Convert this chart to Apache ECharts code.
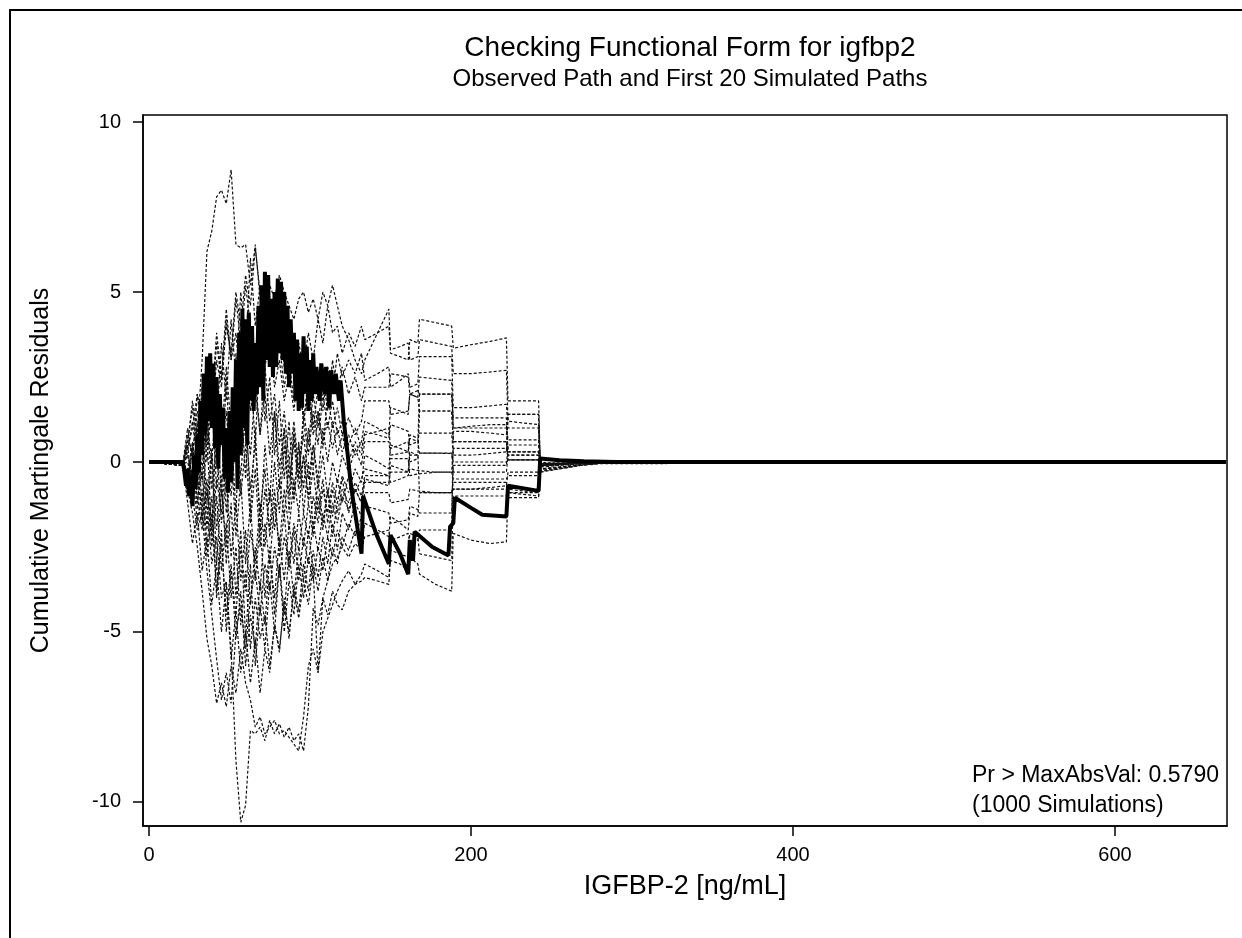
<!DOCTYPE html>
<html>
<head>
<meta charset="utf-8">
<title>Checking Functional Form for igfbp2</title>
<script src="https://cdn.jsdelivr.net/npm/echarts@6/dist/echarts.min.js"></script>
<style>
  html, body { margin: 0; padding: 0; background: #fff; }
  #chart { width: 1242px; height: 938px; }
</style>
</head>
<body>
<div id="chart"></div>
<script>
const FONT = '"Liberation Sans", Arial, sans-serif';

const xTicks = [0, 200, 400, 600];
const yTicks = [-10, -5, 0, 5, 10];

// shared covariate grid for the simulated paths (jumps at the same event values)
const simX = [0, 21, 24, 27, 30, 33, 36, 39, 42, 45, 48, 51, 54, 57, 60, 63, 66, 69, 72, 75, 78, 81, 84, 87, 90, 93, 96, 99, 102, 105, 108, 111, 114, 117, 120, 124, 128, 132,
  134, 142, 149, 150, 156, 161, 162, 167, 168, 178, 188, 189, 200, 212, 222, 223, 232, 242, 243, 255, 268, 280, 669];

const sim1 = [0, -0.05, 0.5, 1.8, 0.8, 3.0, 6.2, 6.8, 7.8, 8.0, 7.6, 8.6, 6.4, 6.3, 6.4, 5.2, 6.4, 4.8, 3.5, 4.2, 2.8, 3.5, 2.2, 3.0, 1.8, 2.5, 1.2, 2.0, 0.8, 1.5, 0.6, 1.2, 0.4, 1.0, 0.3, 0.8, 0.2, 0.6,
  1.2, 1.0, 0.8, 1.6, 1.5, 1.4, 2.0, 1.9, 2.5, 2.45, 2.4, 1.0, 1.05, 1.1, 1.1, 0.65, 0.65, 0.65, -0.1, -0.08, -0.05, -0.02, 0];
const sim2 = [0, -0.05, 0.2, -0.5, 1.0, 0.3, 2.0, 1.2, 3.0, 2.2, 4.0, 3.2, 5.0, 4.0, 5.5, 4.6, 6.3, 5.0, 4.5, 5.2, 4.8, 5.5, 5.0, 4.6, 4.2, 4.8, 5.0, 4.4, 4.8, 4.2, 5.0, 4.6, 5.2, 4.6, 4.0, 3.6, 3.0, 2.6,
  3.0, 3.8, 4.5, 3.2, 3.1, 3.0, 3.6, 3.5, 4.2, 4.1, 4.0, 3.35, 3.45, 3.55, 3.65, 1.8, 1.8, 1.8, 0.0, -0.05, -0.03, 0, 0];
const sim3 = [0, -0.1, -0.5, 0.5, -1.0, -2.0, -1.2, -3.0, -2.2, -4.0, -3.5, -5.5, -8.8, -10.6, -10.1, -7.9, -8.0, -7.8, -8.2, -7.6, -8.0, -7.7, -8.1, -7.8, -8.2, -8.0, -8.5, -7.2, -4.3, -4.8, -4.0, -4.5, -3.8, -4.2, -4.35, -3.8, -3.6, -3.5,
  -3.4, -3.5, -3.6, -2.6, -2.7, -2.8, -2.1, -2.2, -2.7, -2.8, -2.9, -1.0, -1.0, -1.0, -1.0, -0.9, -0.95, -1.0, -0.3, -0.2, -0.1, -0.05, 0];
const sim4 = [0, -0.1, -0.8, -1.5, -2.5, -3.8, -5.2, -6.0, -7.1, -6.5, -7.2, -6.0, -6.8, -5.5, -6.5, -7.0, -7.8, -7.5, -8.0, -7.8, -7.6, -8.0, -7.9, -8.1, -8.3, -8.5, -7.5, -6.0, -5.5, -6.2, -5.0, -4.6, -4.2, -3.8, -3.5, -3.2, -3.6, -3.3,
  -3.0, -3.2, -3.4, -2.9, -3.0, -3.2, -2.8, -3.0, -3.3, -3.6, -3.8, -2.1, -2.3, -2.4, -2.35, -0.8, -0.85, -0.9, -0.25, -0.18, -0.1, -0.03, 0];
const sim5 = [0, -0.05, -0.3, -1.0, -2.0, -1.5, -3.2, -4.5, -5.8, -7.0, -6.2, -7.1, -5.0, -4.2, -5.5, -4.0, -3.2, -4.5, -3.0, -3.8, -2.5, -3.4, -2.2, -3.0, -1.8, -2.6, -1.5, -2.2, -1.0, -1.8, -0.8, -1.5, -0.6, -1.2, -0.4, -0.9, -0.2, -0.6,
  0.2, 0.0, -0.2, 0.5, 0.4, 0.3, 0.8, 0.7, 0.85, 0.85, 0.85, 0.2, 0.2, 0.25, 0.3, 1.4, 1.4, 1.4, -0.15, -0.1, -0.05, -0.02, 0];
const sim6 = [0, -0.1, 0.8, 0.2, 1.5, 0.6, 2.4, 1.5, 3.5, 2.4, 4.2, 3.0, 4.8, 3.5, 5.2, 4.0, 3.2, 4.5, 2.8, 3.6, 2.2, 3.0, 1.8, 2.6, 1.5, 2.8, 1.2, 2.5, 1.0, 2.2, 1.5, 2.8, 2.0, 3.2, 2.5, 3.0, 2.6, 3.2,
  2.4, 2.6, 2.8, 2.2, 2.4, 2.6, 2.2, 2.3, 3.1, 3.1, 3.1, 1.6, 1.6, 1.65, 1.7, 1.0, 1.0, 1.0, -0.12, -0.08, -0.04, -0.01, 0];
const sim7 = [0, -0.05, -0.2, -1.2, 0.2, -1.8, -0.5, -2.5, -1.0, -3.2, -1.8, -4.0, -2.5, -4.8, -3.2, -5.5, -4.0, -5.2, -4.5, -6.0, -4.8, -5.5, -4.2, -5.0, -3.8, -4.6, -3.5, -4.2, -3.0, -3.8, -2.8, -3.5, -2.5, -3.0, -2.2, -2.6, -2.0, -2.4,
  -1.8, -2.0, -2.2, -1.6, -1.8, -2.0, -1.5, -1.6, -0.9, -0.9, -0.9, -0.8, -0.8, -0.75, -0.7, -0.3, -0.3, -0.3, -0.2, -0.15, -0.08, -0.03, 0];
const sim8 = [0, -0.1, 0.5, -0.8, 1.2, -1.5, 0.8, -2.2, 1.5, -1.0, 2.5, -0.5, 3.2, 0.5, 2.0, -1.5, 1.0, -2.0, 0.5, -1.2, 1.5, -0.8, 1.0, -1.5, 0.8, -0.5, 1.2, 0.2, 1.5, 0.5, 2.0, 1.0, 1.8, 0.8, 1.2, 0.5, 1.0, 0.4,
  0.8, 0.9, 1.0, 0.4, 0.5, 0.6, 0.0, 0.1, 1.5, 1.5, 1.5, 0.6, 0.6, 0.6, 0.6, 0.06, 0.06, 0.06, -0.1, -0.06, -0.03, 0, 0];
const sim9 = [0, -0.05, -0.6, 0.4, -1.4, 0.8, -2.0, 0.2, -3.0, -0.8, -2.5, 1.0, -1.5, 2.0, -0.5, 2.8, 0.5, 3.5, 1.2, 2.5, 0.2, 1.8, -0.5, 1.2, -1.0, 0.6, -1.5, 0.0, -2.0, -0.5, -1.8, -0.8, -2.2, -1.2, -0.5, -1.5, -0.8, -1.2,
  -0.5, -0.6, -0.7, -0.1, -0.2, -0.3, 0.3, 0.2, 0.26, 0.26, 0.26, -0.3, -0.3, -0.3, -0.3, 0.2, 0.2, 0.2, -0.05, -0.04, -0.02, 0, 0];
const sim10 = [0, -0.1, 0.3, 1.2, 0.0, 1.8, 0.5, 2.5, 1.0, 3.5, 1.8, 4.2, 2.5, 5.0, 3.2, 6.0, 4.0, 5.2, 3.5, 4.5, 3.0, 4.0, 2.8, 3.8, 2.5, 3.5, 2.8, 3.8, 3.0, 4.2, 3.5, 4.6, 3.8, 4.0, 3.2, 3.8, 3.4, 4.0,
  3.6, 3.8, 4.0, 3.3, 3.4, 3.5, 3.0, 3.1, 3.6, 3.5, 3.4, 2.6, 2.6, 2.65, 2.7, 1.2, 1.15, 1.1, -0.05, -0.03, -0.02, 0, 0];
const sim11 = [0, -0.05, 0.0, -0.6, 0.8, -0.2, 1.5, -0.8, 0.5, -1.8, -0.5, -2.8, -1.2, -3.5, -2.0, -4.2, -2.5, -3.8, -1.8, -3.0, -1.2, -2.5, -0.8, -2.0, -0.5, -1.5, 0.2, -1.0, 0.5, -0.5, 1.0, 0.0, 1.2, 0.2, 0.8, 0.0, 0.6, 0.2,
  0.9, 0.8, 0.7, 1.1, 1.0, 0.9, 0.5, 0.6, 2.0, 2.0, 2.0, 1.0, 1.0, 1.0, 1.0, 0.3, 0.3, 0.3, -0.1, -0.07, -0.03, 0, 0];
const sim12 = [0, -0.1, -1.0, -0.2, -1.8, -0.8, -2.8, -1.5, -3.8, -2.4, -4.5, -3.0, -5.2, -3.8, -6.0, -4.5, -5.5, -3.5, -4.8, -2.8, -4.0, -2.2, -3.5, -1.8, -3.0, -1.5, -2.5, -1.2, -2.2, -1.0, -2.0, -0.8, -1.6, -0.5, -1.2, -0.4, -0.9, -0.5,
  -0.2, -0.3, -0.4, -0.6, -0.5, -0.4, -0.2, -0.25, -0.3, -0.3, -0.3, -0.5, -0.5, -0.5, -0.5, -0.4, -0.4, -0.4, -0.2, -0.15, -0.08, -0.03, 0];
const sim13 = [0, -0.05, 0.6, 1.6, 0.4, 2.2, 0.0, 1.8, -0.8, 1.0, -1.5, 0.5, -2.2, -0.5, -3.0, -1.2, -3.5, -1.8, -4.0, -2.5, -4.5, -3.0, -5.0, -3.5, -4.5, -3.0, -4.0, -2.8, -3.5, -2.5, -3.2, -2.2, -2.8, -2.0, -2.5, -1.8, -2.2, -1.6,
  -1.3, -1.4, -1.5, -1.8, -1.75, -1.7, -1.3, -1.4, -1.5, -1.5, -1.5, -0.1, -0.1, -0.1, -0.1, 0.5, 0.5, 0.5, -0.08, -0.05, -0.03, 0, 0];
const sim14 = [0, -0.1, -0.4, 0.6, -0.6, 1.0, -1.2, 0.4, -2.0, -0.4, -3.0, -1.2, -4.0, -2.0, -5.2, -3.0, -6.0, -4.2, -5.5, -3.5, -5.0, -3.0, -4.5, -2.6, -4.0, -2.5, -3.5, -2.0, -3.2, -6.2, -4.0, -3.5, -3.0, -2.8, -2.5, -2.8, -2.4, -2.6,
  -2.2, -2.1, -2.0, -2.3, -2.2, -2.1, -2.4, -2.3, -2.0, -2.0, -2.0, 0.9, 0.9, 0.85, 0.8, 1.4, 1.4, 1.4, -0.1, -0.07, -0.04, -0.01, 0];
const sim15 = [0, -0.05, 1.0, 0.0, 2.0, 0.8, 3.0, 1.2, 2.0, 0.5, 1.5, -0.5, 1.0, -1.0, 0.5, -1.8, -0.2, -2.5, -0.8, -2.0, 0.0, -1.5, 0.5, -1.0, 1.0, -0.5, 1.5, 0.5, 2.0, 1.0, 2.5, 1.5, 3.0, 2.0, 2.8, 2.0, 2.5, 1.8,
  2.2, 2.2, 2.2, 2.6, 2.55, 2.5, 2.0, 2.1, 2.0, 2.0, 2.0, 1.3, 1.3, 1.3, 1.3, 0.3, 0.3, 0.3, -0.12, -0.08, -0.04, -0.01, 0];
const sim16 = [0, -0.1, -0.2, -1.0, -0.4, -1.6, -0.8, -2.0, -0.5, -1.5, 0.2, -1.0, 0.8, -0.4, 1.5, 0.2, 2.2, 0.8, 2.8, 1.2, 2.0, 0.5, 1.5, 0.0, 1.2, -0.2, 0.8, -0.5, 0.5, -0.8, 0.2, -1.0, 0.0, -0.6, 0.2, -0.3, 0.4, -0.1,
  0.6, 0.6, 0.6, 0.2, 0.25, 0.3, 0.7, 0.6, 0.26, 0.26, 0.25, 0.0, 0.0, 0.0, 0.0, 0.06, 0.06, 0.06, -0.05, -0.03, -0.02, 0, 0];
const sim17 = [0, -0.05, -1.2, -2.4, -1.5, -3.2, -2.2, -4.2, -3.0, -5.0, -3.6, -5.8, -4.4, -6.2, -5.0, -6.5, -5.2, -6.8, -5.5, -6.2, -4.8, -5.6, -4.0, -5.2, -3.6, -4.4, -3.0, -3.8, -2.6, -3.4, -2.2, -3.0, -1.8, -2.6, -1.5, -2.0, -1.2, -1.6,
  -0.9, -0.9, -0.9, -1.2, -1.15, -1.1, -0.8, -0.85, -0.9, -0.9, -0.9, -0.6, -0.6, -0.6, -0.6, -0.9, -0.9, -0.9, -0.22, -0.15, -0.08, -0.03, 0];
const sim18 = [0, -0.1, 0.4, 1.0, 2.0, 1.2, 2.8, 1.8, 3.8, 2.5, 4.5, 3.0, 3.8, 2.0, 3.0, 1.5, 2.5, 0.8, 2.0, 0.2, 1.5, -0.2, 1.0, -0.5, 0.6, -0.8, 0.2, -1.2, -0.2, -1.5, -0.5, -1.8, -0.8, -1.5, -0.8, -1.2, -0.6, -1.0,
  -0.4, -0.4, -0.4, 0.1, 0.1, 0.1, -0.4, -0.35, -0.3, -0.3, -0.3, 0.4, 0.4, 0.4, 0.4, 0.2, 0.2, 0.2, -0.07, -0.05, -0.02, 0, 0];
const sim19 = [0, -0.05, -0.5, 0.2, -1.2, -0.2, -2.5, -1.0, -4.0, -2.0, -5.0, -3.2, -4.5, -2.5, -3.8, -2.0, -3.0, -1.2, -2.5, -0.8, -2.0, -0.5, -1.6, 0.0, -1.2, 0.5, -0.8, 1.0, -0.2, 1.5, 0.4, 2.0, 1.0, 1.6, 0.8, 1.3, 0.8, 1.2,
  1.8, 1.8, 1.8, 1.4, 1.45, 1.5, 2.0, 1.9, 1.5, 1.5, 1.5, 0.6, 0.6, 0.6, 0.6, 0.06, 0.06, 0.06, -0.1, -0.07, -0.03, 0, 0];
const sim20 = [0, -0.1, 0.2, -0.4, 0.6, -0.6, 1.2, 0.0, 2.0, 0.6, 2.8, 1.0, 2.2, 0.2, 1.2, -0.8, 0.5, -1.5, -0.2, -2.2, -0.8, -2.8, -1.5, -3.2, -2.0, -3.5, -2.2, -3.0, -1.8, -2.6, -1.5, -2.2, -1.2, -1.8, -1.0, -1.4, -0.8, -1.2,
  -0.6, -0.6, -0.6, -0.3, -0.3, -0.3, 0.2, 0.2, -0.9, -0.9, -0.9, -0.8, -0.8, -0.8, -0.8, -1.05, -1.05, -1.05, -0.28, -0.2, -0.1, -0.04, 0];

const simPaths = [sim1, sim2, sim3, sim4, sim5, sim6, sim7, sim8, sim9, sim10,
  sim11, sim12, sim13, sim14, sim15, sim16, sim17, sim18, sim19, sim20];

// observed cumulative martingale residual path [igfbp2, residual]
const observedPath = [[0, 0], [21, 0], [22, -0.3], [23, -0.7], [24, -0.2], [25, -1.0], [26, -0.4], [27, -1.3], [28, 0.2], [29, -0.8],
  [30, 0.8], [31, -0.3], [32, 1.8], [33, 0.2], [34, 2.6], [35, 0.8], [36, 3.1], [37, 1.2], [38, 3.2], [39, 1.0],
  [40, 2.9], [41, 0.4], [42, 2.5], [43, -0.2], [44, 2.0], [45, 0.5], [46, 1.6], [47, -0.5], [48, 1.0], [49, -0.9],
  [50, 1.5], [51, -0.6], [52, 2.2], [53, 0.0], [54, 3.0], [55, -0.8], [56, 3.8], [57, 0.2], [58, 4.5], [59, 1.0],
  [60, 4.2], [61, 0.5], [62, 4.4], [63, 1.8], [64, 4.0], [65, 1.5], [66, 3.5], [67, 2.0], [68, 4.6], [69, 2.2],
  [70, 5.2], [71, 1.8], [72, 5.6], [73, 3.0], [74, 5.5], [75, 2.8], [76, 4.8], [77, 2.5], [78, 5.0], [79, 2.8],
  [80, 5.4], [81, 3.2], [82, 5.3], [83, 3.0], [84, 5.0], [85, 2.6], [86, 4.6], [87, 2.2], [88, 4.2], [89, 2.6],
  [90, 3.8], [91, 1.8], [92, 3.6], [93, 1.5], [94, 3.2], [95, 1.6], [96, 3.7], [97, 2.0], [98, 3.4], [99, 1.5],
  [100, 3.0], [101, 1.8], [102, 3.2], [103, 2.0], [104, 2.8], [106, 1.8], [107, 2.9], [109, 2.0], [110, 2.8], [112, 1.6],
  [113, 2.7], [115, 2.0], [116, 2.6], [118, 1.8], [119, 2.4], [121, 1.2], [123, 0.4], [125, -0.5], [127, -1.2], [129, -1.8],
  [131, -2.4], [132, -2.7], [133, -1.0], [141, -2.1], [149, -3.0], [150, -2.15], [156, -2.7], [161, -3.3], [162, -2.3], [164, -2.9],
  [165, -2.05], [176, -2.5], [186, -2.75], [187, -1.9], [189, -1.8], [190, -1.05], [200, -1.35], [207, -1.55], [222, -1.6], [223, -0.7],
  [242, -0.85], [243, 0.1], [255, 0.05], [270, 0.02], [290, 0], [669, 0]];

const titleText = 'Checking Functional Form for igfbp2';
const subtitleText = 'Observed Path and First 20 Simulated Paths';
const statLines = ['Pr > MaxAbsVal: 0.5790', '(1000 Simulations)'];

const chart = echarts.init(document.getElementById('chart'));

const series = simPaths.map((ys, i) => ({
  name: 'Simulated ' + (i + 1),
  type: 'line',
  data: simX.map((x, j) => [x, ys[j]]),
  showSymbol: false,
  symbol: 'none',
  silent: true,
  z: 2,
  lineStyle: { color: '#111', width: 1.2, type: [3, 2] }
}));

series.push({
  name: 'Observed',
  type: 'line',
  data: observedPath,
  showSymbol: false,
  symbol: 'none',
  silent: true,
  z: 3,
  lineStyle: { color: '#000', width: 4 }
});

const option = {
  animation: false,
  backgroundColor: '#fff',
  grid: {
    left: 143, right: 15, top: 115, bottom: 112,
    show: true, borderColor: '#000', borderWidth: 1.5, backgroundColor: 'transparent'
  },
  xAxis: {
    type: 'value',
    min: -3.73,
    max: 669.6,
    name: 'IGFBP-2 [ng/mL]',
    nameLocation: 'middle',
    nameGap: 47,
    nameTextStyle: { fontFamily: FONT, fontSize: 27, color: '#000' },
    axisLine: { show: true, onZero: false, lineStyle: { color: '#000', width: 1.5 } },
    axisTick: { show: true, length: 10, customValues: xTicks, lineStyle: { color: '#000', width: 1.5 } },
    axisLabel: { customValues: xTicks, margin: 19, fontFamily: FONT, fontSize: 20, color: '#000' },
    splitLine: { show: false }
  },
  yAxis: {
    type: 'value',
    min: -10.71,
    max: 10.21,
    name: 'Cumulative Martingale Residuals',
    nameLocation: 'middle',
    nameGap: 89,
    nameTextStyle: { fontFamily: FONT, fontSize: 25, color: '#000' },
    axisLine: { show: true, onZero: false, lineStyle: { color: '#000', width: 1.5 } },
    axisTick: { show: true, length: 10, customValues: yTicks, lineStyle: { color: '#000', width: 1.5 } },
    axisLabel: { customValues: yTicks, margin: 22, fontFamily: FONT, fontSize: 20, color: '#000' },
    splitLine: { show: false }
  },
  graphic: [
    {
      type: 'rect', silent: true,
      shape: { x: 10, y: 10, width: 1300, height: 1000 },
      style: { fill: 'none', stroke: '#000', lineWidth: 2 }
    },
    {
      type: 'text', x: 690, y: 48, silent: true,
      style: { text: titleText, font: '28px ' + FONT, fill: '#000', textAlign: 'center', textVerticalAlign: 'middle' }
    },
    {
      type: 'text', x: 690, y: 79, silent: true,
      style: { text: subtitleText, font: '24px ' + FONT, fill: '#000', textAlign: 'center', textVerticalAlign: 'middle' }
    },
    {
      type: 'text', x: 972, y: 776, silent: true,
      style: { text: statLines[0], font: '23px ' + FONT, fill: '#000', textAlign: 'left', textVerticalAlign: 'middle' }
    },
    {
      type: 'text', x: 972, y: 806, silent: true,
      style: { text: statLines[1], font: '23px ' + FONT, fill: '#000', textAlign: 'left', textVerticalAlign: 'middle' }
    }
  ],
  series: series
};

chart.setOption(option);

window.addEventListener('resize', () => {
  chart.resize();
});
</script>
</body>
</html>
